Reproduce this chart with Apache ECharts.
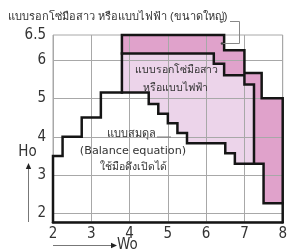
<!DOCTYPE html>
<html><head><meta charset="utf-8">
<script src="https://cdn.jsdelivr.net/npm/echarts@6/dist/echarts.min.js"></script>
<style>html,body{margin:0;padding:0;background:#fff}#c{width:290px;height:250px}</style>
</head><body><div id="c"></div>
<script>
// ---- data ----
const xMin = 2, xMax = 8;
const yBottom = 1.78, yTopValue = 6.65, yTopLabel = '6.5';
const yTicks = [2, 3, 4, 5, 6];
const yLabelValues = [2, 3, 4, 5, 6, 6.65];
// black outline of the "balance" (white) region
const balanceEdge = [[2,1.78],[2,3.5],[2.25,3.5],[2.25,4],[2.75,4],[2.75,4.5],[3.25,4.5],[3.25,5.15],
  [4.5,5.15],[4.5,4.85],[4.75,4.85],[4.75,4.6],[5,4.6],[5,4.35],[5.25,4.35],[5.25,4.1],[5.5,4.1],
  [5.5,3.83],[6.5,3.83],[6.5,3.57],[6.75,3.57],[6.75,3.3],[7.5,3.3],[7.5,2.27],[8,2.27]];
// boundary light pink / dark pink
const innerEdge = [[3.8,5.15],[3.8,6.17],[6.2,6.17],[6.2,5.9],[6.47,5.9],[6.47,5.6],[7,5.6],[7,5.36],[7.25,5.36],[7.25,3.3]];
// outer boundary of the dark pink region
const outerEdge = [[3.8,6.17],[3.8,6.65],[6.47,6.65],[6.47,6.25],[7,6.25],[7,5.66],[7.45,5.66],[7.45,5],[8,5],[8,1.78]];
const titleText = 'แบบรอกโซ่มือสาว หรือแบบไฟฟ้า (ขนาดใหญ่)';
const midLabel = ['แบบรอกโซ่มือสาว', 'หรือแบบไฟฟ้า'];
const balanceLabel = ['แบบสมดุล', '(Balance equation)', 'ใช้มือดึงเปิดได้'];
const xName = 'Wo', yName = 'Ho';

// ---- build polygons from the edges ----
const stairRev = balanceEdge.filter(p => p[0] >= 3.8).slice().reverse();
const darkPoly = [innerEdge[0]].concat(outerEdge.slice(0, -1), stairRev);
const lightPoly = innerEdge.concat(stairRev.filter(p => p[0] < 7.25 && p[1] >= 3.3));
const polys = [darkPoly, lightPoly];
const fills = ['#e0a2cb', '#ecd4ea'];

const numFont = "'Liberation Sans Narrow','DejaVu Sans Condensed','Liberation Sans',sans-serif";
const chart = echarts.init(document.getElementById('c'));
const lineStyleBlack = {color: '#151515', width: 2.5, join: 'miter', cap: 'square'};
chart.setOption({
  animation: false,
  grid: {left: 53, right: 2, top: 35, bottom: 28, show: true, borderColor: '#a8a8a8', borderWidth: 1},
  xAxis: {
    type: 'value', min: xMin, max: xMax, interval: 1,
    axisLine: {show: true, lineStyle: {color: '#151515', width: 2.5}},
    axisTick: {show: false},
    axisLabel: {fontSize: 15, color: '#333', margin: 5, fontFamily: numFont},
    splitLine: {show: true, lineStyle: {color: '#a8a8a8', width: 1}}
  },
  yAxis: {
    type: 'value', min: yBottom, max: yTopValue,
    axisLine: {show: false},
    axisTick: {show: false, customValues: yTicks},
    axisLabel: {fontSize: 15, color: '#333', margin: 7, fontFamily: numFont,
      customValues: yLabelValues,
      formatter: v => Math.abs(v - yTopValue) < 1e-6 ? yTopLabel : String(v)},
    splitLine: {show: true, lineStyle: {color: '#a8a8a8', width: 1}}
  },
  series: [
    {type: 'custom', z: -1, clip: false, silent: true, data: [0, 1],
      renderItem: (params, api) => ({
        type: 'polygon',
        shape: {points: polys[params.dataIndex].map(p => api.coord(p))},
        style: {fill: fills[params.dataIndex]}
      })},
    {type: 'line', data: balanceEdge, showSymbol: false, symbol: 'none', clip: false, silent: true, z: 5, lineStyle: lineStyleBlack},
    {type: 'line', data: innerEdge, showSymbol: false, symbol: 'none', clip: false, silent: true, z: 5, lineStyle: lineStyleBlack},
    {type: 'line', data: outerEdge, showSymbol: false, symbol: 'none', clip: false, silent: true, z: 5, lineStyle: lineStyleBlack}
  ],
  graphic: [
    {type: 'text', left: 8, top: 11, style: {text: titleText, fontSize: 11, fill: '#333'}},
    {type: 'polyline', shape: {points: [[230, 21.5], [239.5, 21.5], [239.5, 43.5], [222, 43.5]]}, style: {stroke: '#888', lineWidth: 1, fill: null}, z: 10},
    {type: 'circle', shape: {cx: 222, cy: 43.5, r: 1.3}, style: {fill: '#444'}, z: 10},
    {type: 'text', x: 176, y: 70, style: {text: midLabel[0], fontSize: 10.5, fill: '#333', align: 'center', verticalAlign: 'middle'}, z: 10},
    {type: 'text', x: 175, y: 88, style: {text: midLabel[1], fontSize: 10.5, fill: '#333', align: 'center', verticalAlign: 'middle'}, z: 10},
    {type: 'text', x: 131, y: 134, style: {text: balanceLabel[0], fontSize: 11, fill: '#333', align: 'center', verticalAlign: 'middle'}, z: 10},
    {type: 'line', shape: {x1: 157, y1: 137, x2: 171, y2: 137}, style: {stroke: '#777', lineWidth: 1}, z: 10},
    {type: 'text', x: 133, y: 151.5, style: {text: balanceLabel[1], fontSize: 11.2, fill: '#333', align: 'center', verticalAlign: 'middle', fontFamily: "'DejaVu Sans',sans-serif"}, z: 10},
    {type: 'text', x: 133, y: 167, style: {text: balanceLabel[2], fontSize: 10.5, fill: '#333', align: 'center', verticalAlign: 'middle'}, z: 10},
    // axis name arrows
    {type: 'line', shape: {x1: 53, y1: 245.5, x2: 113, y2: 245.5}, style: {stroke: '#777', lineWidth: 1}},
    {type: 'polygon', shape: {points: [[117, 245.5], [111, 242.8], [111, 248.2]]}, style: {fill: '#222'}},
    {type: 'text', x: 117, y: 245, style: {text: xName, fontSize: 15, fill: '#333', verticalAlign: 'middle', fontFamily: numFont}},
    {type: 'line', shape: {x1: 28.5, y1: 222, x2: 28.5, y2: 167}, style: {stroke: '#777', lineWidth: 1}},
    {type: 'polygon', shape: {points: [[28.5, 163], [25.8, 169], [31.2, 169]]}, style: {fill: '#222'}},
    {type: 'text', x: 27.5, y: 152, style: {text: yName, fontSize: 15, fill: '#333', align: 'center', verticalAlign: 'middle', fontFamily: numFont}}
  ]
});
</script></body></html>
